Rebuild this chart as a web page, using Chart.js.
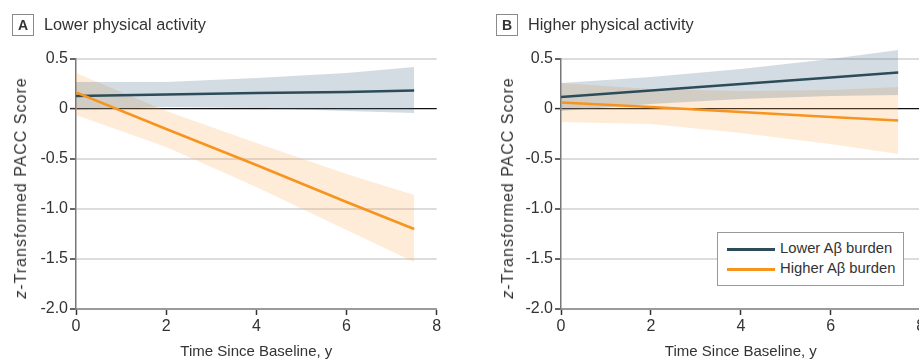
<!DOCTYPE html>
<html>
<head>
<meta charset="utf-8">
<script src="https://cdn.jsdelivr.net/npm/chart.js@4.4.1/dist/chart.umd.min.js"></script>
<style>
  body { margin: 0; width: 919px; height: 361px; overflow: hidden; background: #fff; position: relative;
         font-family: "Liberation Sans", Arial, sans-serif; color: #333; }
  canvas { position: absolute; top: 0; }
  #chartA { left: 0; }
  #chartB { left: 470px; }
  .panel-box { position: absolute; top: 14px; width: 20px; height: 20px; border: 1px solid #8a8a8a;
               font-weight: bold; font-size: 14px; line-height: 20px; text-align: center; color: #333; }
  .panel-title { position: absolute; top: 13px; font-size: 16.3px; line-height: 22px; color: #333; white-space: nowrap; }
  .y-title { position: absolute; top: 188px; font-size: 16px; letter-spacing: 1px; white-space: nowrap; color: #333;
             transform: translate(-50%, -50%) rotate(-90deg); }
  .legend { position: absolute; left: 717px; top: 232px; width: 185px; height: 52px; border: 1px solid #999;
            background: #fff; font-size: 14.8px; color: #333; }
  .legend-row { position: absolute; left: 9px; height: 20px; line-height: 20px; white-space: nowrap; }
  .legend-row span { display: inline-block; width: 48px; height: 3px; vertical-align: middle; margin-right: 5px; }
</style>
</head>
<body>
<canvas id="chartA" width="460" height="361"></canvas>
<canvas id="chartB" width="470" height="361"></canvas>

<div class="panel-box" style="left:12px;">A</div>
<div class="panel-title" style="left:44px;">Lower physical activity</div>
<div class="panel-box" style="left:496px;">B</div>
<div class="panel-title" style="left:528px;">Higher physical activity</div>

<div class="y-title" style="left:21px;"><i>z</i>-Transformed PACC Score</div>
<div class="y-title" style="left:508px;"><i>z</i>-Transformed PACC Score</div>

<div class="legend">
  <div class="legend-row" style="top:5px;"><span style="background:#2c4c5a;"></span>Lower Aβ burden</div>
  <div class="legend-row" style="top:25px;"><span style="background:#f7941d;"></span>Higher Aβ burden</div>
</div>

<script>
// Years since baseline where values were read
const years = [0, 2, 4, 6, 7.5];

// Panel A: lower physical activity
const lowA_mean = [0.13, 0.145, 0.16, 0.17, 0.185];
const lowA_upper = [0.27, 0.27, 0.31, 0.36, 0.42];
const lowA_lower = [-0.01, 0.02, 0.01, -0.02, -0.04];
const highA_mean = [0.165, -0.20, -0.56, -0.93, -1.20];
const highA_upper = [0.36, -0.02, -0.34, -0.65, -0.86];
const highA_lower = [-0.06, -0.38, -0.78, -1.21, -1.53];

// Panel B: higher physical activity
const lowB_mean = [0.12, 0.185, 0.25, 0.315, 0.365];
const lowB_upper = [0.26, 0.32, 0.40, 0.50, 0.59];
const lowB_lower = [-0.02, 0.05, 0.10, 0.13, 0.14];
const highB_mean = [0.065, 0.02, -0.03, -0.08, -0.115];
const highB_upper = [0.26, 0.20, 0.18, 0.19, 0.22];
const highB_lower = [-0.13, -0.15, -0.24, -0.35, -0.45];

const yTicks = [-2, -1.5, -1, -0.5, 0, 0.5];
const xTicks = [0, 2, 4, 6, 8];

const lowColor = '#2c4c5a';
const highColor = '#f7941d';
const lowBand = 'rgba(70,110,135,0.24)';
const highBand = 'rgba(250,170,90,0.24)';

function pts(values) {
    return years.map((x, i) => ({ x: x, y: values[i] }));
}

function makeDatasets(lowMean, lowUp, lowLo, highMean, highUp, highLo) {
    return [
        { label: 'Lower Aβ burden', data: pts(lowMean), borderColor: lowColor, borderWidth: 2.5, pointRadius: 0, fill: false, order: 1 },
        { label: 'Higher Aβ burden', data: pts(highMean), borderColor: highColor, borderWidth: 2.5, pointRadius: 0, fill: false, order: 0 },
        { data: pts(lowUp), borderWidth: 0, pointRadius: 0, backgroundColor: lowBand, fill: '+1', order: 2, clip: false },
        { data: pts(lowLo), borderWidth: 0, pointRadius: 0, fill: false, order: 2, clip: false },
        { data: pts(highUp), borderWidth: 0, pointRadius: 0, backgroundColor: highBand, fill: '+1', order: 2, clip: false },
        { data: pts(highLo), borderWidth: 0, pointRadius: 0, fill: false, order: 2, clip: false }
    ];
}

// let the bands run a little above the top gridline, like the original
const looseTop = {
    id: 'looseTop',
    beforeDatasetsDraw(chart) {
        chart._savedTop = chart.chartArea.top;
        chart.chartArea.top = chart._savedTop - 20;
    },
    afterDatasetsDraw(chart) {
        chart.chartArea.top = chart._savedTop;
    }
};

function makeChart(id, datasets, yWidth, padRight) {
    let ctx = document.getElementById(id).getContext('2d');
    return new Chart(ctx, {
        type: 'line',
        data: { datasets: datasets },
        plugins: [looseTop],
        options: {
            responsive: false,
            animation: false,
            layout: { padding: { top: 59, right: padRight, bottom: 0, left: 0 } },
            plugins: {
                legend: { display: false },
                tooltip: { enabled: false },
                filler: { drawTime: 'beforeDatasetDraw' }
            },
            scales: {
                x: {
                    type: 'linear',
                    min: 0, max: 8,
                    afterBuildTicks: (scale) => { scale.ticks = xTicks.map(v => ({ value: v })); },
                    afterFit: (scale) => { scale.height = 52; },
                    border: { display: true, color: '#9a9a9a', width: 2 },
                    grid: { drawOnChartArea: false, drawTicks: true, tickLength: 6, tickColor: '#333', tickWidth: 1.5 },
                    ticks: { color: '#333', padding: 2, font: { family: 'Liberation Sans', size: 16 } },
                    title: { display: true, text: 'Time Since Baseline, y', color: '#333', padding: 0,
                             font: { family: 'Liberation Sans', size: 15 } }
                },
                y: {
                    type: 'linear',
                    min: -2, max: 0.5,
                    afterBuildTicks: (scale) => { scale.ticks = yTicks.map(v => ({ value: v })); },
                    afterFit: (scale) => { scale.width = yWidth; },
                    border: { display: true, color: '#777', width: 1.5 },
                    grid: {
                        color: (c) => c.tick.value === 0 ? '#111' : (c.tick.value === -2 ? 'rgba(0,0,0,0)' : '#dcdcdc'),
                        lineWidth: (c) => c.tick.value === 0 ? 1.2 : 2,
                        tickLength: 6, tickColor: '#333', tickWidth: 1.5
                    },
                    ticks: {
                        color: '#333', padding: 2,
                        font: { family: 'Liberation Sans', size: 16 },
                        callback: (v) => v === 0 ? '0' : v.toFixed(1)
                    }
                }
            }
        }
    });
}

makeChart('chartA', makeDatasets(lowA_mean, lowA_upper, lowA_lower, highA_mean, highA_upper, highA_lower), 76, 23.3);
makeChart('chartB', makeDatasets(lowB_mean, lowB_upper, lowB_lower, highB_mean, highB_upper, highB_lower), 91, 19.3);
</script>
</body>
</html>
